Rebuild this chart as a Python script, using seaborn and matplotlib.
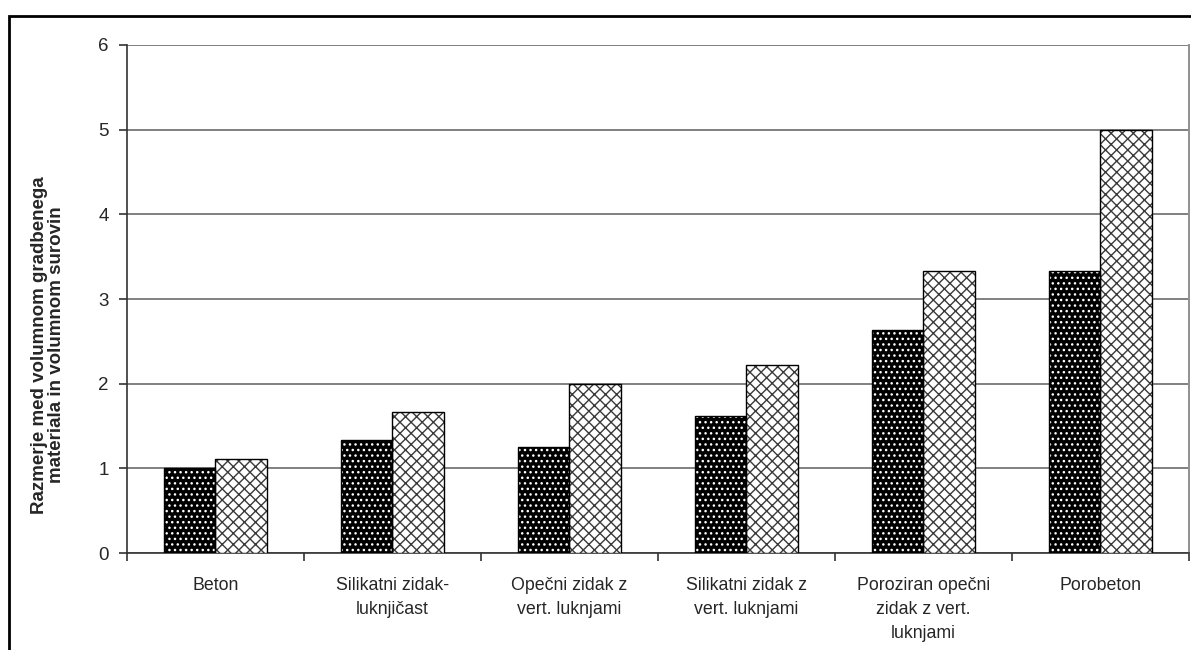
import matplotlib
matplotlib.use("Agg")
import matplotlib.pyplot as plt
from matplotlib.patches import Rectangle
import numpy as np
import pandas as pd
import seaborn as sns

# Material categories and the two ratio series
categories = [
    "Beton",
    "Silikatni zidak-\nluknjičast",
    "Opečni zidak z\nvert. luknjami",
    "Silikatni zidak z\nvert. luknjami",
    "Poroziran opečni\nzidak z vert.\nluknjami",
    "Porobeton",
]
series_names = ["Serija 1", "Serija 2"]
series_1 = [1.00, 1.33, 1.25, 1.62, 2.63, 3.33]
series_2 = [1.11, 1.67, 2.00, 2.22, 3.33, 5.00]
y_ticks = [0, 1, 2, 3, 4, 5, 6]
y_label = "Razmerje med volumnom gradbenega\nmateriala in volumnom surovin"

df = pd.DataFrame({
    "kategorija": categories * 2,
    "serija": [series_names[0]] * len(categories) + [series_names[1]] * len(categories),
    "razmerje": series_1 + series_2,
})

sns.set_theme(style="white")
plt.rcParams["font.family"] = ["Liberation Sans", "DejaVu Sans"]
plt.rcParams["hatch.linewidth"] = 1.0

fig = plt.figure(figsize=(11.91, 6.5), dpi=100)
ax = fig.add_axes([0.1066, 0.1492, 0.8917, 0.7816])

sns.barplot(
    data=df, x="kategorija", y="razmerje", hue="serija",
    order=categories, hue_order=series_names,
    palette=["black", "white"], width=0.58, legend=False,
    ax=ax, zorder=3,
)

n = len(categories)
bars = ax.patches[: 2 * n]
for i, bar in enumerate(bars):
    if i < n:
        # dark bars: black fill with white dot pattern
        bar.set_facecolor("black")
        bar.set_edgecolor("white")
        bar.set_hatch("...")
        bar.set_linewidth(0)
    else:
        # light bars: white fill with diagonal lattice pattern
        bar.set_facecolor("white")
        bar.set_edgecolor("#3a3a3a")
        bar.set_hatch("xxx")
        bar.set_linewidth(0)
    ax.add_patch(Rectangle(bar.get_xy(), bar.get_width(), bar.get_height(),
                           fill=False, edgecolor="black", linewidth=1.0, zorder=4))

ax.set_xlim(-0.5, n - 0.5)
ax.set_ylim(0, 6)
ax.set_yticks(y_ticks)
ax.set_yticklabels([str(t) for t in y_ticks], fontsize=13.5)
ax.yaxis.grid(True, color="#808080", linewidth=1.4, zorder=0)
ax.set_axisbelow(True)

ax.set_xticks(range(n))
ax.set_xticklabels(categories, fontsize=12.8, linespacing=1.55)
ax.set_xticks(np.arange(-0.5, n, 1.0), minor=True)
ax.tick_params(axis="x", which="major", length=0, pad=17)
ax.tick_params(axis="x", which="minor", length=6, width=1.2, color="#333333", direction="out", bottom=True)
ax.tick_params(axis="y", length=6, width=1.2, color="#333333", direction="out", left=True, pad=7)

ax.set_xlabel("")
ax.set_ylabel(y_label, fontsize=13.5, fontweight="bold", linespacing=1.05)
ax.yaxis.set_label_coords(-0.058, 0.41)

for side in ["left", "bottom"]:
    ax.spines[side].set_color("#333333")
    ax.spines[side].set_linewidth(1.2)
ax.spines["right"].set_color("#909090")
ax.spines["right"].set_linewidth(1.4)
ax.spines["top"].set_visible(False)

# outer chart frame, open on the right and bottom edges
fig.patches.append(Rectangle((9 / 1191, -0.1), 1.2, (1 - 16 / 650) + 0.1,
                             transform=fig.transFigure, fill=False,
                             edgecolor="black", linewidth=2.0))

fig.savefig("out.png", dpi=100)
